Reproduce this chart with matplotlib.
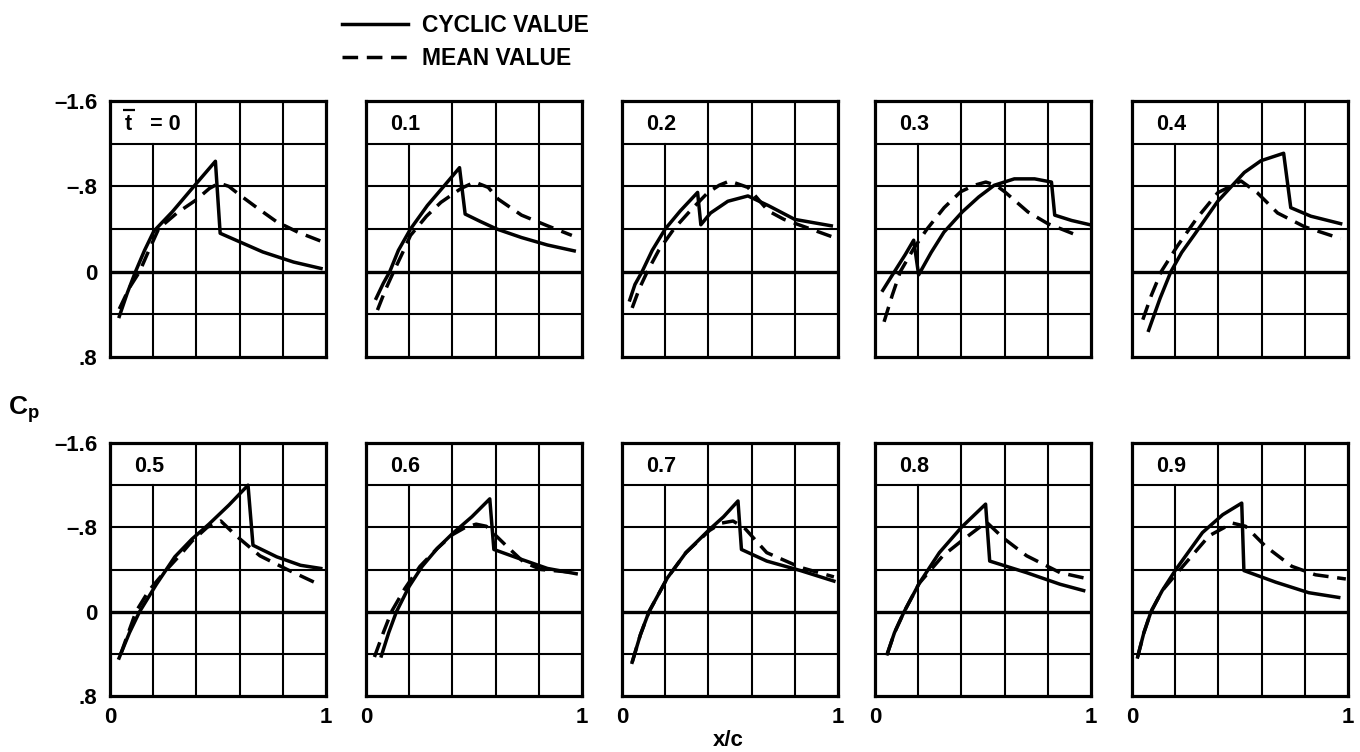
import matplotlib
matplotlib.use("Agg")
import matplotlib.pyplot as plt
from matplotlib.lines import Line2D

plt.rcParams['font.family'] = ['Liberation Sans', 'DejaVu Sans']
plt.rcParams['mathtext.fontset'] = 'custom'
plt.rcParams['mathtext.rm'] = 'Liberation Sans:bold'
plt.rcParams['mathtext.bf'] = 'Liberation Sans:bold'

#%% pressure distributions, one panel per tbar
tbar_labels = ['t   = 0', '0.1', '0.2', '0.3', '0.4',
               '0.5', '0.6', '0.7', '0.8', '0.9']

# tbar = 0
cyc0_x = [0.043, 0.08, 0.118, 0.16, 0.203, 0.288, 0.38, 0.488, 0.51, 0.6, 0.707, 0.85, 0.977]
cyc0_cp = [0.42, 0.2, 0.0, -0.2, -0.38, -0.56, -0.78, -1.035, -0.36, -0.28, -0.185, -0.09, -0.03]
mean0_x = [0.043, 0.09, 0.137, 0.18, 0.226, 0.31, 0.397, 0.46, 0.505, 0.55, 0.6, 0.68, 0.77, 0.87, 0.978]
mean0_cp = [0.35, 0.15, 0.0, -0.2, -0.405, -0.55, -0.67, -0.78, -0.83, -0.80, -0.72, -0.6, -0.47, -0.37, -0.285]

# tbar = 0.1
cyc1_x = [0.047, 0.08, 0.11, 0.15, 0.206, 0.284, 0.36, 0.433, 0.459, 0.53, 0.605, 0.72, 0.84, 0.964]
cyc1_cp = [0.25, 0.11, 0.0, -0.2, -0.4, -0.62, -0.8, -0.975, -0.54, -0.47, -0.40, -0.32, -0.25, -0.195]
mean1_x = [0.053, 0.09, 0.128, 0.17, 0.206, 0.28, 0.347, 0.44, 0.503, 0.566, 0.612, 0.72, 0.84, 0.953]
mean1_cp = [0.36, 0.17, 0.0, -0.18, -0.34, -0.52, -0.65, -0.78, -0.84, -0.79, -0.68, -0.53, -0.43, -0.34]

# tbar = 0.2
cyc2_x = [0.036, 0.06, 0.093, 0.14, 0.2, 0.27, 0.35, 0.365, 0.41, 0.49, 0.583, 0.677, 0.8, 0.969]
cyc2_cp = [0.265, 0.12, 0.0, -0.2, -0.4, -0.57, -0.743, -0.44, -0.55, -0.66, -0.71, -0.62, -0.49, -0.43]
mean2_x = [0.047, 0.08, 0.117, 0.17, 0.24, 0.32, 0.397, 0.45, 0.498, 0.583, 0.677, 0.75, 0.832, 0.969]
mean2_cp = [0.34, 0.16, 0.0, -0.2, -0.4, -0.58, -0.74, -0.81, -0.85, -0.79, -0.57, -0.49, -0.43, -0.33]

# tbar = 0.3
cyc3_x = [0.036, 0.09, 0.14, 0.179, 0.202, 0.26, 0.319, 0.404, 0.48, 0.552, 0.645, 0.739, 0.817, 0.832, 0.91, 0.995]
cyc3_cp = [0.175, 0.0, -0.16, -0.295, 0.03, -0.18, -0.37, -0.56, -0.70, -0.81, -0.87, -0.87, -0.84, -0.53, -0.48, -0.44]
mean3_x = [0.042, 0.08, 0.117, 0.18, 0.241, 0.32, 0.397, 0.46, 0.513, 0.56, 0.6, 0.708, 0.8, 0.949]
mean3_cp = [0.47, 0.22, 0.0, -0.22, -0.40, -0.6, -0.75, -0.81, -0.84, -0.81, -0.75, -0.56, -0.45, -0.33]

# tbar = 0.4
cyc4_x = [0.077, 0.13, 0.18, 0.23, 0.29, 0.397, 0.52, 0.597, 0.702, 0.735, 0.828, 0.966]
cyc4_cp = [0.55, 0.25, 0.0, -0.18, -0.35, -0.66, -0.93, -1.04, -1.11, -0.60, -0.52, -0.45]
mean4_x = [0.05, 0.09, 0.135, 0.21, 0.30, 0.397, 0.505, 0.58, 0.674, 0.8, 0.966]
mean4_cp = [0.45, 0.22, 0.0, -0.24, -0.5, -0.74, -0.85, -0.74, -0.55, -0.42, -0.31]

# tbar = 0.5
cyc5_x = [0.042, 0.09, 0.137, 0.215, 0.3, 0.38, 0.458, 0.55, 0.639, 0.662, 0.772, 0.882, 0.976]
cyc5_cp = [0.44, 0.2, 0.0, -0.26, -0.52, -0.69, -0.83, -1.01, -1.2, -0.63, -0.52, -0.44, -0.41]
mean5_x = [0.05, 0.085, 0.12, 0.18, 0.254, 0.33, 0.38, 0.45, 0.513, 0.584, 0.694, 0.82, 0.945]
mean5_cp = [0.4, 0.2, 0.0, -0.2, -0.38, -0.55, -0.67, -0.80, -0.86, -0.72, -0.53, -0.40, -0.28]

# tbar = 0.6
cyc6_x = [0.071, 0.105, 0.141, 0.2, 0.26, 0.33, 0.4, 0.49, 0.573, 0.592, 0.714, 0.84, 0.973]
cyc6_cp = [0.42, 0.2, 0.0, -0.24, -0.43, -0.6, -0.74, -0.9, -1.07, -0.59, -0.50, -0.41, -0.36]
mean6_x = [0.039, 0.08, 0.118, 0.18, 0.25, 0.33, 0.4, 0.46, 0.51, 0.557, 0.652, 0.73, 0.81, 0.973]
mean6_cp = [0.43, 0.2, 0.0, -0.22, -0.43, -0.6, -0.73, -0.80, -0.83, -0.81, -0.62, -0.47, -0.40, -0.37]

# tbar = 0.7
cyc7_x = [0.047, 0.085, 0.125, 0.21, 0.296, 0.405, 0.47, 0.537, 0.553, 0.67, 0.826, 0.981]
cyc7_cp = [0.48, 0.22, 0.0, -0.32, -0.56, -0.78, -0.90, -1.05, -0.59, -0.48, -0.39, -0.29]
mean7_x = [0.047, 0.085, 0.125, 0.21, 0.296, 0.405, 0.46, 0.514, 0.569, 0.67, 0.826, 0.981]
mean7_cp = [0.48, 0.22, 0.0, -0.32, -0.56, -0.77, -0.84, -0.86, -0.79, -0.56, -0.42, -0.33]

# tbar = 0.8
cyc8_x = [0.057, 0.09, 0.135, 0.205, 0.298, 0.4, 0.512, 0.531, 0.702, 0.857, 0.966]
cyc8_cp = [0.40, 0.2, 0.0, -0.27, -0.56, -0.8, -1.02, -0.48, -0.37, -0.26, -0.20]
mean8_x = [0.057, 0.09, 0.135, 0.205, 0.314, 0.4, 0.516, 0.593, 0.702, 0.857, 0.989]
mean8_cp = [0.40, 0.2, 0.0, -0.27, -0.53, -0.67, -0.85, -0.70, -0.53, -0.37, -0.31]

# tbar = 0.9
cyc9_x = [0.026, 0.055, 0.088, 0.14, 0.203, 0.326, 0.42, 0.508, 0.518, 0.665, 0.818, 0.957]
cyc9_cp = [0.43, 0.2, 0.0, -0.2, -0.40, -0.75, -0.92, -1.03, -0.39, -0.28, -0.18, -0.135]
mean9_x = [0.026, 0.055, 0.088, 0.14, 0.21, 0.357, 0.465, 0.526, 0.618, 0.74, 0.849, 0.99]
mean9_cp = [0.43, 0.2, 0.0, -0.2, -0.37, -0.72, -0.84, -0.81, -0.62, -0.43, -0.35, -0.31]

cyclic = [(cyc0_x, cyc0_cp), (cyc1_x, cyc1_cp), (cyc2_x, cyc2_cp), (cyc3_x, cyc3_cp),
          (cyc4_x, cyc4_cp), (cyc5_x, cyc5_cp), (cyc6_x, cyc6_cp), (cyc7_x, cyc7_cp),
          (cyc8_x, cyc8_cp), (cyc9_x, cyc9_cp)]
mean = [(mean0_x, mean0_cp), (mean1_x, mean1_cp), (mean2_x, mean2_cp), (mean3_x, mean3_cp),
        (mean4_x, mean4_cp), (mean5_x, mean5_cp), (mean6_x, mean6_cp), (mean7_x, mean7_cp),
        (mean8_x, mean8_cp), (mean9_x, mean9_cp)]

ytick_vals = [-1.6, -0.8, 0.0, 0.8]
ytick_text = ['\u20131.6', '\u2013.8', '0', '.8']

#%%
W, H = 1360, 752
fig = plt.figure(figsize=(W / 100, H / 100), dpi=100)

col_left = [110, 366, 622, 875, 1132]
panel_w = 216
row_top = [101, 443]
row_bot = [357, 696]

lw = 2.5
dash = (4.5, 2.5)
for i in range(10):
    r, c = divmod(i, 5)
    ax = fig.add_axes([col_left[c] / W, 1 - row_bot[r] / H,
                       panel_w / W, (row_bot[r] - row_top[r]) / H])
    ax.set_xlim(0, 1)
    ax.set_ylim(0.8, -1.6)

    # grid, leaving the label cell open
    for gx in [0.2, 0.4, 0.6, 0.8]:
        top = 5 / 6 if gx == 0.2 else 1
        ax.axvline(gx, ymin=0, ymax=top, color='black', lw=1.5, zorder=1)
    for gy in [-1.2, -0.8, -0.4, 0.4]:
        ax.axhline(gy, color='black', lw=1.5, zorder=1)
    ax.axhline(0, color='black', lw=2.4, zorder=1)

    ax.plot(*cyclic[i], color='black', lw=lw, zorder=3, solid_joinstyle='round')
    ax.plot(*mean[i], color='black', lw=lw, zorder=3, dashes=dash)

    for s in ax.spines.values():
        s.set_linewidth(2.3)

    ax.text(0.07 if i == 0 else 0.11, -1.38, tbar_labels[i], fontsize=15.5,
            fontweight='bold', ha='left', va='center')
    if i == 0:
        # overbar on t
        ax.plot([0.062, 0.118], [0.963, 0.963], color='black', lw=1.6,
                transform=ax.transAxes, solid_capstyle='butt')

    ax.tick_params(length=0, labelsize=16)
    if c == 0:
        ax.set_yticks(ytick_vals)
        ax.set_yticklabels(ytick_text, fontweight='bold')
        ax.tick_params(axis='y', pad=9)
    else:
        ax.set_yticks([])
    if r == 1:
        ax.set_xticks([0, 1])
        ax.set_xticklabels(['0', '1'], fontweight='bold')
        ax.tick_params(axis='x', pad=8)
    else:
        ax.set_xticks([])

fig.text(728 / W, 1 - 740 / H, 'x/c', fontsize=16, fontweight='bold',
         ha='center', va='center')
fig.text(24 / W, 1 - 410 / H, r'$\mathbf{C_p}$', fontsize=19,
         ha='center', va='center')

handles = [Line2D([], [], color='black', lw=lw),
           Line2D([], [], color='black', lw=lw, dashes=dash)]
fig.legend(handles, ['CYCLIC VALUE', 'MEAN VALUE'], loc='upper left',
           bbox_to_anchor=(342 / W, 1 - 14 / H), frameon=False,
           handlelength=2.9, handletextpad=0.6, labelspacing=0.45,
           borderpad=0, borderaxespad=0, prop={'weight': 'bold', 'size': 16.5})

fig.savefig('out.png', dpi=100)
